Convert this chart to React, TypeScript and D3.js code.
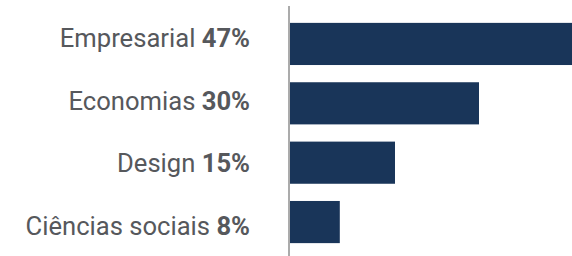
import * as d3 from 'd3';

const categories = ['Empresarial', 'Economias', 'Design', 'Ciências sociais'];
const shareLabels = ['47%', '30%', '15%', '8%'];
// bar lengths as drawn in the picture (in %)
const barValues = [47, 31.5, 17.5, 8.3];

export default function App() {
  const width = 572;
  const height = 256;
  const axisX = 289;

  const y = d3
    .scaleBand<string>()
    .domain(categories)
    .range([11, 255])
    .paddingInner(0.29)
    .paddingOuter(0.2);

  // labels sit on their own baselines
  const yLabel = d3.scalePoint<string>().domain(categories).range([47, 235]);

  const x = d3.scaleLinear().domain([0, 47]).range([axisX + 1, width]);

  return (
    <svg
      width={width}
      height={height}
      viewBox={`0 0 ${width} ${height}`}
      style={{ position: 'absolute', left: 0, top: 0 }}
    >
      {categories.map((c, i) => (
        <rect
          key={c}
          x={x(0)}
          y={y(c)}
          width={x(barValues[i]) - x(0)}
          height={y.bandwidth()}
          fill="#193559"
        />
      ))}
      <line x1={axisX} x2={axisX} y1={6} y2={height} stroke="#8f8f8f" strokeWidth={1.5} />
      {categories.map((c, i) => (
        <text
          key={c}
          x={250}
          y={yLabel(c)}
          textAnchor="end"
          fontFamily="Roboto"
          fontSize={25.6}
          fill="#56585c"
        >
          {c + ' '}
          <tspan fontWeight="bold">{shareLabels[i]}</tspan>
        </text>
      ))}
    </svg>
  );
}
